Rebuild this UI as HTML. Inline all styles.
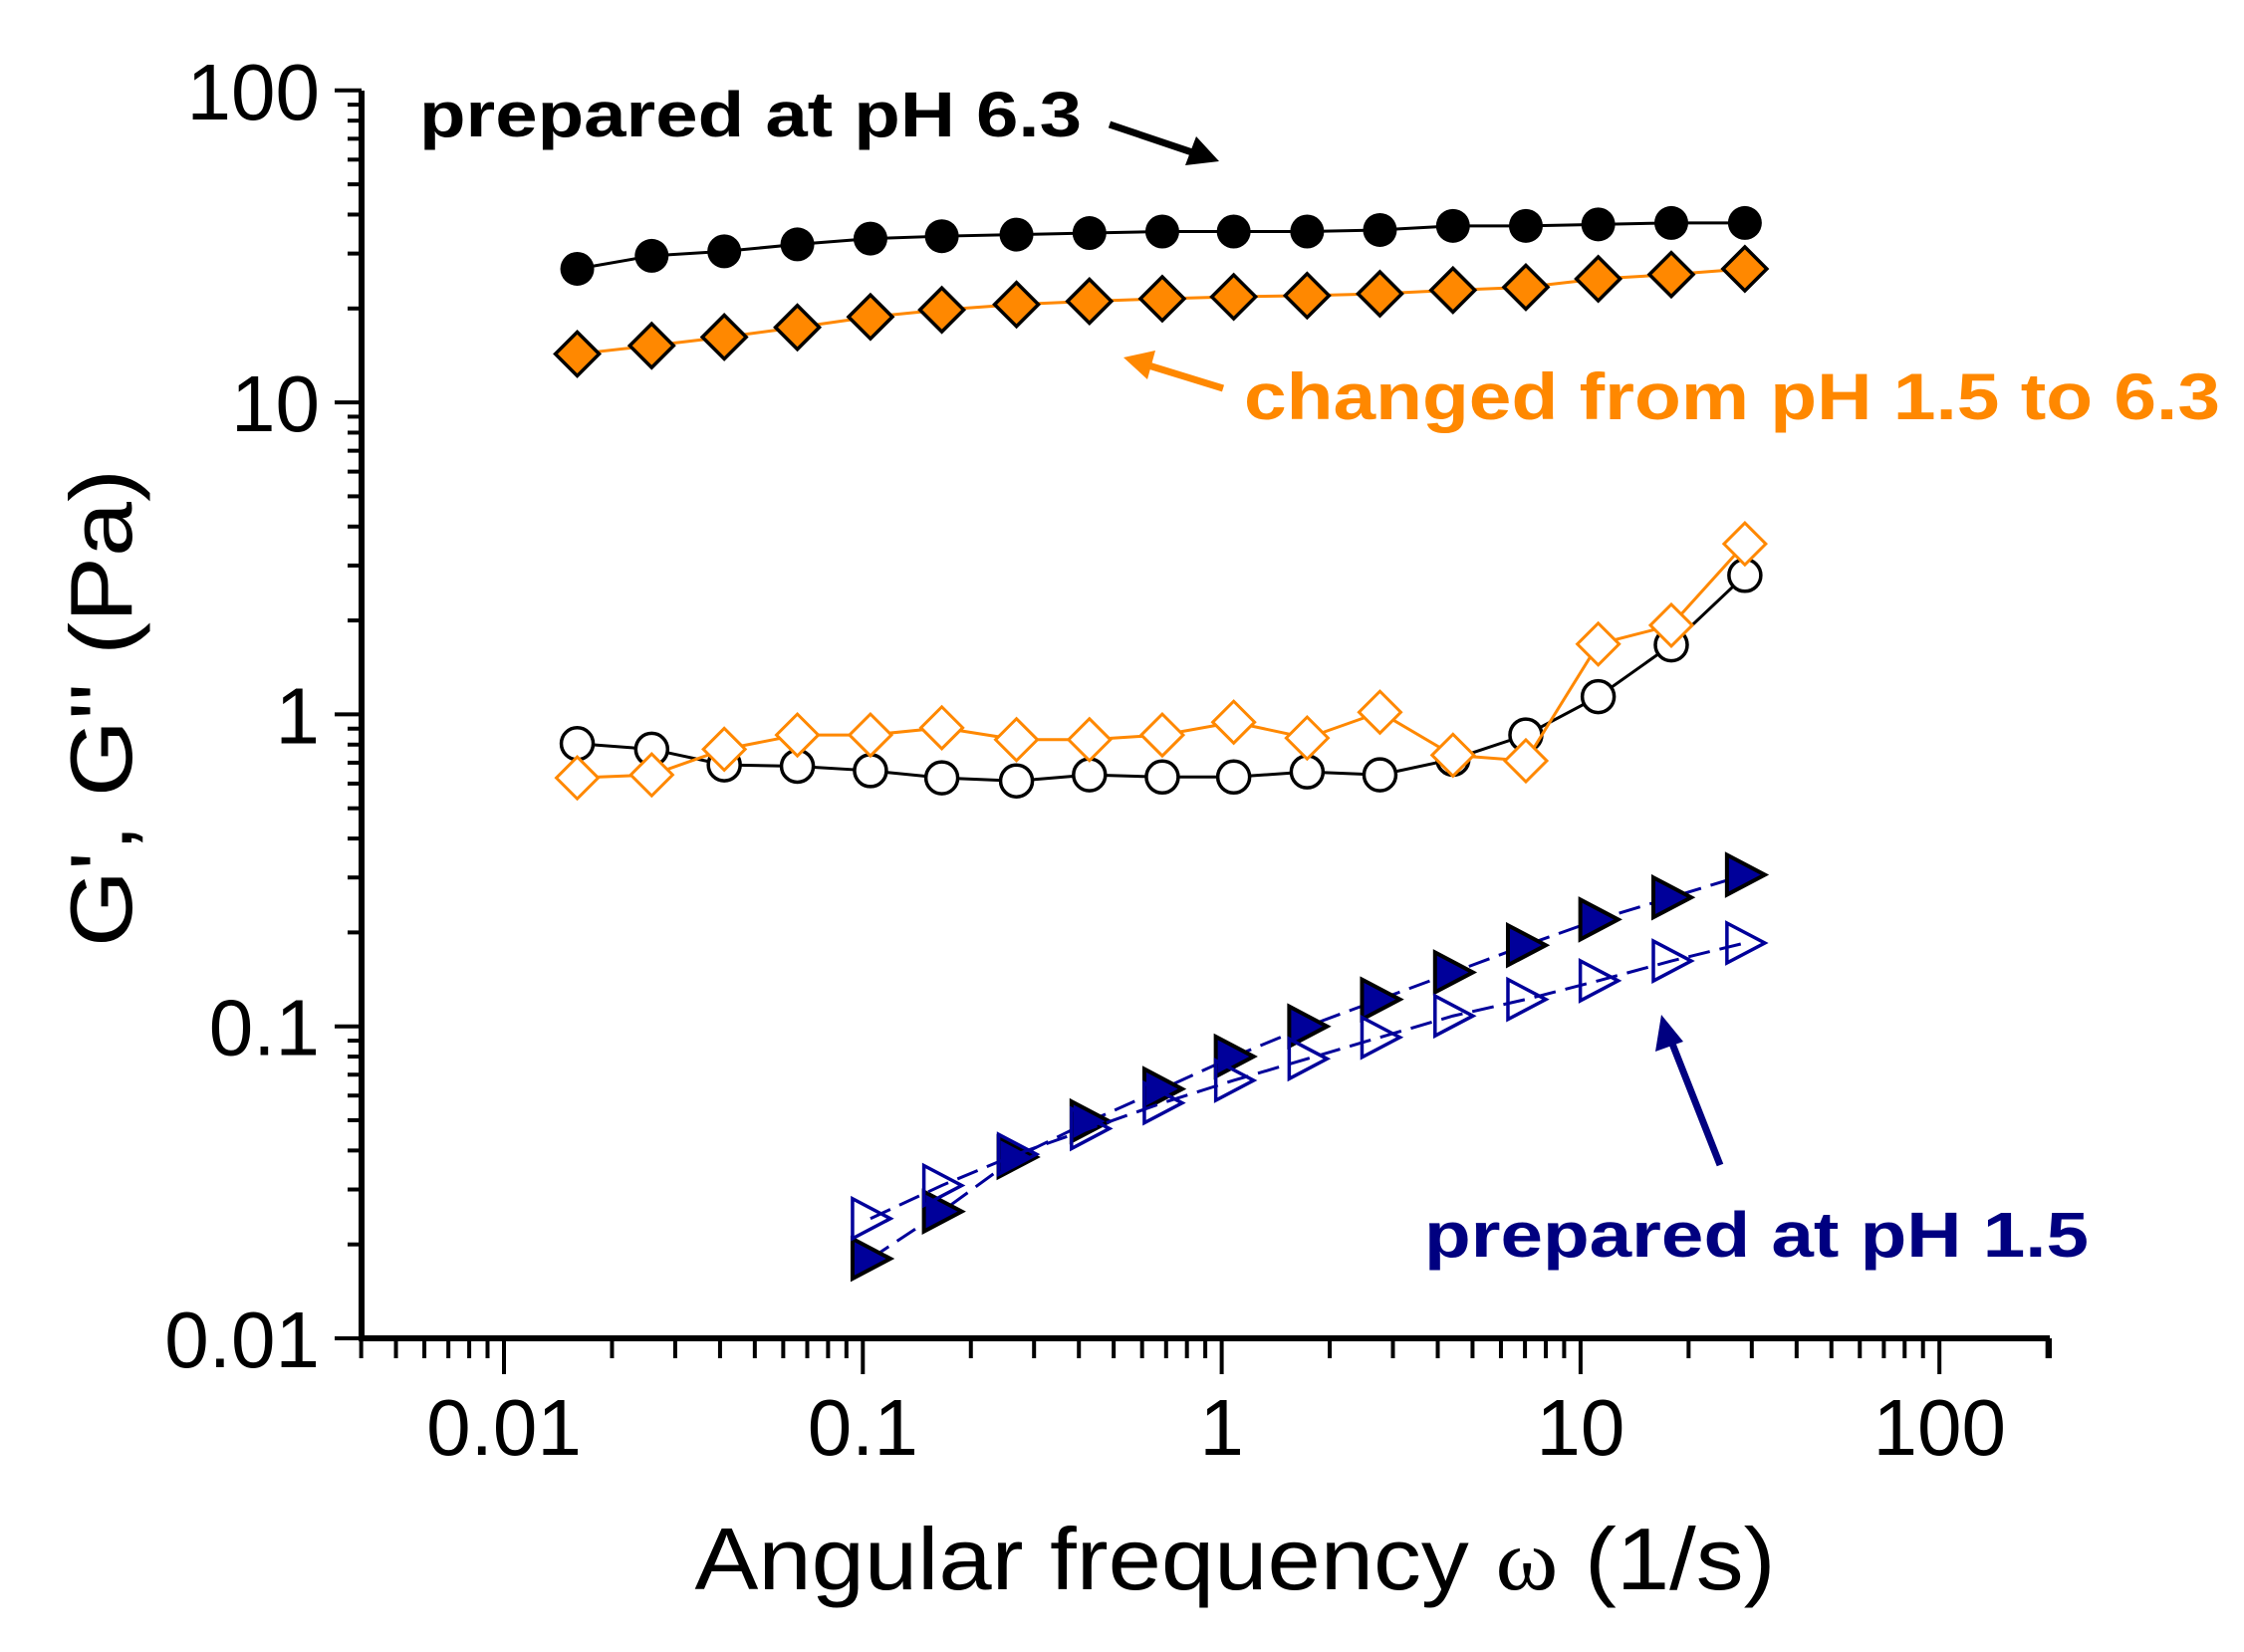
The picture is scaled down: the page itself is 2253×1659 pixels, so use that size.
<!DOCTYPE html>
<html><head><meta charset="utf-8"><style>html,body{margin:0;padding:0;background:#fff}svg{display:block}</style></head>
<body>
<svg id="chart" width="2253" height="1659" viewBox="0 0 2253 1659" xmlns="http://www.w3.org/2000/svg" font-family="'Liberation Sans', Arial, sans-serif">
<g id="axes"></g>
<g id="series"></g>
<text x="0" y="0" transform="translate(132,711) rotate(-90)" text-anchor="middle" font-size="88" textLength="480" lengthAdjust="spacingAndGlyphs">G', G'' (Pa)</text>
<text x="1240" y="1596" text-anchor="middle" font-size="88" textLength="1085" lengthAdjust="spacingAndGlyphs">Angular frequency <tspan font-family="'Liberation Serif', serif">ω</tspan> (1/s)</text>
<text x="421" y="137" font-size="64" font-weight="bold" textLength="665" lengthAdjust="spacingAndGlyphs">prepared at pH 6.3</text>
<text x="1249" y="421" font-size="66" font-weight="bold" fill="#ff8800" textLength="980" lengthAdjust="spacingAndGlyphs">changed from pH 1.5 to 6.3</text>
<text x="1430" y="1262" font-size="64" font-weight="bold" fill="#000080" textLength="667" lengthAdjust="spacingAndGlyphs">prepared at pH 1.5</text>
<g><line x1="1114" y1="125" x2="1200" y2="154" stroke="#000" stroke-width="7"/><polygon points="1224,162 1190,166 1201,137" fill="#000"/></g>
<g><line x1="1228" y1="390" x2="1150" y2="366" stroke="#ff8800" stroke-width="7"/><polygon points="1128,359 1160,352 1152,381" fill="#ff8800"/></g>
<g><line x1="1727" y1="1170" x2="1677" y2="1043" stroke="#000080" stroke-width="7"/><polygon points="1668,1019 1690,1046 1662,1056" fill="#000080"/></g>
</svg>
<script>
const freq=[0.016,0.0258,0.0411,0.0657,0.105,0.166,0.268,0.428,0.683,1.08,1.73,2.76,4.41,7.04,11.2,17.9,28.7];
const g1_63=[26.8,29.5,30.5,32.1,33.5,34.1,34.5,34.9,35.3,35.3,35.3,35.7,36.8,36.8,37.2,37.6,37.6];
const g1_chg=[14.3,15.2,16.2,17.4,18.8,19.8,20.6,21.1,21.5,21.8,22.0,22.3,22.9,23.4,24.9,25.7,26.8];
const g2_63=[0.806,0.773,0.689,0.682,0.66,0.626,0.612,0.64,0.63,0.63,0.654,0.64,0.718,0.859,1.14,1.67,2.79];
const g2_chg=[0.626,0.64,0.773,0.859,0.859,0.906,0.83,0.83,0.859,0.944,0.84,1.016,0.74,0.71,1.68,1.93,3.52];
const freq15=[0.105,0.166,0.268,0.428,0.683,1.08,1.73,2.76,4.41,7.04,11.2,17.9,28.7];
const g1_15=[0.018,0.0255,0.0381,0.0496,0.063,0.080,0.1,0.122,0.149,0.182,0.220,0.259,0.306];
const g2_15=[0.0242,0.0309,0.0389,0.047,0.0568,0.0671,0.0787,0.0922,0.108,0.122,0.140,0.162,0.185];
const yTicks=[0.01,0.1,1,10,100];
const yTickLabels=["0.01","0.1","1","10","100"];
const xTicks=[0.01,0.1,1,10,100];
const xTickLabels=["0.01","0.1","1","10","100"];

const NS="http://www.w3.org/2000/svg";
const X=v=>506+360.3*(Math.log10(v)+2);
const Y=v=>1344-313.3*(Math.log10(v)+2);
const AX0=363, AX1=2058, AY0=1344, AY1=91;
function mk(tag,attrs,parent){const e=document.createElementNS(NS,tag);for(const k in attrs)e.setAttribute(k,attrs[k]);parent.appendChild(e);return e;}
const axes=document.getElementById('axes'), ser=document.getElementById('series');

let e=mk('line',{x1:AX0,y1:AY0,x2:AX1,y2:AY0,stroke:'#000','stroke-width':6},axes);


e=mk('line',{x1:AX0,y1:AY0+3,x2:AX0,y2:AY1,stroke:'#000','stroke-width':6},axes);


for(let d=-2;d<2;d++){for(let m=1;m<=9;m++){const v=m*Math.pow(10,d);const y=Y(v);
 e=mk('line',{x1:AX0,y1:y,x2:AX0-(m===1?27:14),y2:y,stroke:'#000','stroke-width':4},axes);
 
 }}
e=mk('line',{x1:AX0,y1:Y(100),x2:AX0-27,y2:Y(100),stroke:'#000','stroke-width':4},axes);


yTicks.forEach((v,i)=>{const t=mk('text',{x:AX0-42,y:Y(v)+29,'text-anchor':'end','font-size':80},axes);t.textContent=yTickLabels[i];
 
 });
for(let d=-3;d<3;d++){for(let m=1;m<=9;m++){const v=m*Math.pow(10,d);const x=X(v);if(x<AX0-1||x>AX1+1)continue;
 e=mk('line',{x1:x,y1:AY0,x2:x,y2:AY0+(m===1?36:20),stroke:'#000','stroke-width':4},axes);
 
 }}
e=mk('line',{x1:AX1,y1:AY0,x2:AX1,y2:AY0+20,stroke:'#000','stroke-width':4},axes);


xTicks.forEach((v,i)=>{const t=mk('text',{x:X(v),y:AY0+117,'text-anchor':'middle','font-size':80},axes);t.textContent=xTickLabels[i];
 
 });

function series(name,xs,ys,color,dash,marker){
 const g=mk('g',{},ser);
 
 
 const pts=xs.map((x,i)=>[X(x),Y(ys[i])]);
 const l=mk('polyline',{points:pts.map(p=>p.join(',')).join(' '),fill:'none',stroke:color,'stroke-width':3,'stroke-dasharray':dash||'none'},g);
 
 
 pts.forEach(([x,y])=>{let m;
  if(marker==='fcircle')m=mk('circle',{cx:x,cy:y,r:17,fill:'#000'},g);
  else if(marker==='ocircle')m=mk('circle',{cx:x,cy:y,r:16,fill:'#fff',stroke:'#000','stroke-width':3.5},g);
  else if(marker==='fdiamond')m=mk('polygon',{points:`${x-22},${y} ${x},${y-22} ${x+22},${y} ${x},${y+22}`,fill:'#ff8800',stroke:'#000','stroke-width':3.5},g);
  else if(marker==='odiamond')m=mk('polygon',{points:`${x-21},${y} ${x},${y-21} ${x+21},${y} ${x},${y+21}`,fill:'#fff',stroke:'#ff8800','stroke-width':3},g);
  else if(marker==='ftri')m=mk('polygon',{points:`${x-18},${y-20} ${x+20},${y} ${x-18},${y+20}`,fill:'#00009a',stroke:'#000','stroke-width':4},g);
  else m=mk('polygon',{points:`${x-18},${y-20} ${x+20},${y} ${x-18},${y+20}`,fill:'none',stroke:'#00009a','stroke-width':3.5},g);
  
  });
}
series('g-prime-ph63',freq,g1_63,'#000',null,'fcircle');
series('g-prime-changed',freq,g1_chg,'#ff8800',null,'fdiamond');
series('g-double-prime-ph63',freq,g2_63,'#000',null,'ocircle');
series('g-double-prime-changed',freq,g2_chg,'#ff8800',null,'odiamond');
series('g-prime-ph15',freq15,g1_15,'#00009a','22,10','ftri');
series('g-double-prime-ph15',freq15,g2_15,'#00009a','22,10','otri');
</script>
</body></html>
